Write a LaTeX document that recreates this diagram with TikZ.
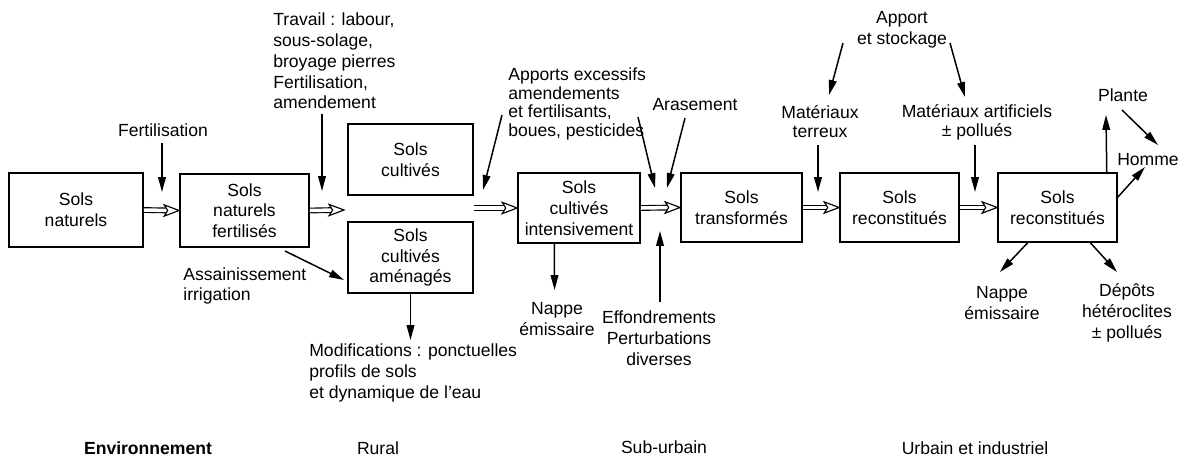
\documentclass[tikz,border=0pt]{standalone}
\usepackage{fontspec}
\setmainfont{Liberation Sans}
\usetikzlibrary{arrows.meta,calc}
\tikzset{
  box/.style={draw, line width=1pt, align=center, inner sep=0pt},
  lbl/.style={align=center, inner sep=0pt},
  lbll/.style={align=left, inner sep=0pt, anchor=west},
  arr/.style={line width=0.85pt, -{Triangle[length=8.5pt,width=4.4pt]}},
  dblshaft/.style={double, double distance=2pt, line width=0.65pt},
  dblhead/.style={line width=0.65pt, fill=white, line join=miter}
}
\newcommand\dblarr[2]{%
  \draw[dblshaft] (#1) -- ($(#2)+(-5pt,0)$);
  \draw[dblhead] (#2) -- ++(-8.5pt,3.2pt) -- ++(2pt,-3.2pt) -- ++(-2pt,-3.2pt) -- cycle;}
\begin{document}
\begin{tikzpicture}[x=0.02cm,y=-0.02cm,font=\fontsize{10}{11.8}\selectfont]
\useasboundingbox (0,0) rectangle (1181,468);
% boxes
\node[box, minimum width=2.68cm, minimum height=1.48cm] (b1) at (76,210) {Sols\\naturels};
\node[box, minimum width=2.58cm, minimum height=1.46cm] (b2) at (244.5,210.5) {Sols\\naturels\\fertilisés};
\node[box, minimum width=2.50cm, minimum height=1.42cm] (b3) at (410.5,159.5) {Sols\\cultivés};
\node[box, minimum width=2.50cm, minimum height=1.42cm] (b4) at (410.5,257.5) {Sols\\cultivés\\aménagés};
\node[box, minimum width=2.44cm, minimum height=1.40cm] (b5) at (579,208) {Sols\\cultivés\\intensivement};
\node[box, minimum width=2.42cm, minimum height=1.38cm] (b6) at (741.5,207.5) {Sols\\transformés};
\node[box, minimum width=2.38cm, minimum height=1.38cm] (b7) at (899.5,207.5) {Sols\\reconstitués};
\node[box, minimum width=2.38cm, minimum height=1.38cm] (b8) at (1057.5,207.5) {Sols\\reconstitués};
% gap coordinates
\coordinate (g1) at (344,210);
\coordinate (g2) at (474,208);
% double arrows
\dblarr{b1.east}{b2.west}
\dblarr{b2.east}{g1}
\dblarr{g2}{b5.west}
\dblarr{b5.east}{b6.west}
\dblarr{b6.east}{b7.west}
\dblarr{b7.east}{b8.west}
% labels
\node[lbl] (fert) at (163,130) {Fertilisation};
\node[lbll] (trav) at (273,61) {Travail : labour,\\sous-solage,\\broyage pierres\\Fertilisation,\\amendement};
\node[lbll] (assa) at (183,286) {Assainissement\\irrigation};
\node[lbll] (modi) at (309,373) {Modifications : ponctuelles\\profils de sols\\et dynamique de l’eau};
\node[lbll, font=\fontsize{10}{10.6}\selectfont] (appo) at (508,104) {Apports excessifs\\amendements\\et fertilisants,\\boues, pesticides};
\node[lbl] (aras) at (695,105) {Arasement};
\node[lbl] (nap1) at (557,319) {Nappe\\émissaire};
\node[lbl] (effo) at (659,338) {Effondrements\\Perturbations\\diverses};
\node[lbl] (stoc) at (902,30) {Apport\\et stockage};
\node[lbl, font=\fontsize{10}{10.8}\selectfont] (terr) at (820,122) {Matériaux\\terreux};
\node[lbl, font=\fontsize{10}{10.8}\selectfont] (arti) at (977,122) {Matériaux artificiels\\± pollués};
\node[lbl] (plan) at (1123,95) {Plante};
\node[lbl] (homm) at (1148,160) {Homme};
\node[lbl] (nap2) at (1002,303) {Nappe\\émissaire};
\node[lbl] (depo) at (1127,313) {Dépôts\\hétéroclites\\± pollués};
\node[lbl, font=\fontsize{10}{12}\selectfont\bfseries] (env) at (148,448) {Environnement};
\node[lbl] (rura) at (378,448) {Rural};
\node[lbl] (subu) at (664,447) {Sub-urbain};
\node[lbl] (urba) at (975,448) {Urbain et industriel};
% free-end coordinates
\coordinate (fs) at (162,143);   \coordinate (fe) at (162,192);
\coordinate (ts) at (322,114);   \coordinate (te) at (322,191);
\coordinate (as) at (285,251);   \coordinate (ae) at (344,280);
\coordinate (me) at (410.5,340);
\coordinate (ps1) at (502,115);  \coordinate (pe1) at (483,190);
\coordinate (ps2) at (638,117);  \coordinate (pe2) at (655,188);
\coordinate (rs) at (685,118);   \coordinate (re) at (667,188);
\coordinate (es) at (660,302);   \coordinate (ee) at (660,231);
\coordinate (ne1) at (554.6,290);
\coordinate (ss1) at (843,43);   \coordinate (se1) at (829,95);
\coordinate (ss2) at (950,43);   \coordinate (se2) at (965,97);
\coordinate (mts) at (818,145);  \coordinate (mte) at (818,192);
\coordinate (mas) at (975,145);  \coordinate (mae) at (975,192);
\coordinate (pe) at (1106,115);
\coordinate (phs) at (1122,110); \coordinate (phe) at (1158,145);
\coordinate (hs) at (1117,198);  \coordinate (he) at (1145,167);
\coordinate (n2e) at (1000,272);
\coordinate (de) at (1117,272);
% single arrows
\draw[arr] (fs) -- (fe);
\draw[arr] (ts) -- (te);
\draw[arr] (as) -- (ae);
\draw[arr] (b4.south) -- (me);
\draw[arr] (ps1) -- (pe1);
\draw[arr] (ps2) -- (pe2);
\draw[arr] (rs) -- (re);
\draw[arr] (es) -- (ee);
\draw[arr] ($(b5.south west)!0.3!(b5.south east)$) -- (ne1);
\draw[arr] (ss1) -- (se1);
\draw[arr] (ss2) -- (se2);
\draw[arr] (mts) -- (mte);
\draw[arr] (mas) -- (mae);
\draw[arr] ($(b8.north west)!0.908!(b8.north east)$) -- (pe);
\draw[arr] (phs) -- (phe);
\draw[arr] (hs) -- (he);
\draw[arr] ($(b8.south west)!0.252!(b8.south east)$) -- (n2e);
\draw[arr] ($(b8.south west)!0.773!(b8.south east)$) -- (de);
\end{tikzpicture}
\end{document}
